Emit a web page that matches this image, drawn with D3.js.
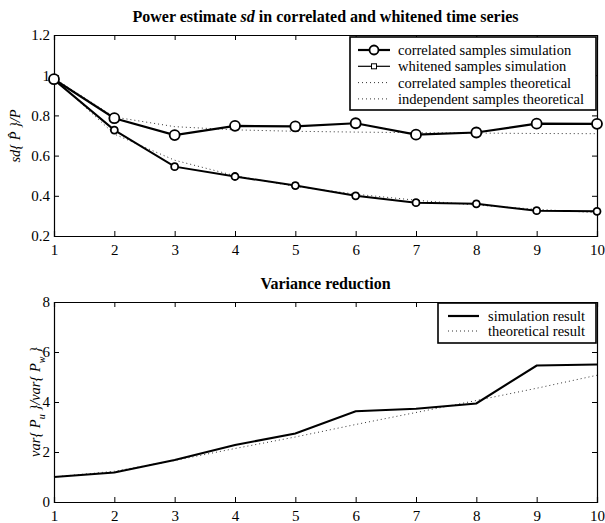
<!DOCTYPE html>
<html>
<head>
<meta charset="utf-8">
<script src="https://cdn.jsdelivr.net/npm/d3@7"></script>
<style>
  body { margin: 0; background: #fff; }
  svg { display: block; }
  text { font-family: "Liberation Serif", "Times New Roman", serif; fill: #000; }
</style>
</head>
<body>
<div id="chart"></div>
<script>
var steps = [1, 2, 3, 4, 5, 6, 7, 8, 9, 10];

// top panel
var corrSim   = [0.980, 0.786, 0.702, 0.748, 0.745, 0.761, 0.704, 0.715, 0.759, 0.758];
var whiteSim  = [0.978, 0.727, 0.545, 0.496, 0.451, 0.400, 0.366, 0.360, 0.326, 0.323];
var corrTheo  = [0.985, 0.792, 0.744, 0.728, 0.721, 0.717, 0.714, 0.712, 0.710, 0.709];
var indepTheo = [0.985, 0.707, 0.577, 0.500, 0.447, 0.408, 0.378, 0.354, 0.333, 0.316];
var topTicks  = [0.2, 0.4, 0.6, 0.8, 1, 1.2];

// bottom panel
var varSim  = [1.00, 1.18, 1.68, 2.28, 2.74, 3.63, 3.73, 3.94, 5.46, 5.50];
var varTheo = [1.00, 1.23, 1.66, 2.14, 2.60, 3.10, 3.58, 4.06, 4.55, 5.07];
var botTicks = [0, 2, 4, 6, 8];

var W = 605, H = 523;
var svg = d3.select("#chart").append("svg").attr("width", W).attr("height", H);

var left = 54, right = 597, tick = 5, fs = 14.5;

var x = d3.scaleLinear().domain([1, 10]).range([left, right]);

function panel(top, bottom, yDomain, yTicks, title) {
  var y = d3.scaleLinear().domain(yDomain).range([bottom, top]);
  var g = svg.append("g");

  // inside ticks on all four sides
  g.append("g").attr("transform", `translate(0,${bottom})`)
    .call(d3.axisBottom(x).tickValues(steps).tickSize(-tick).tickPadding(8).tickFormat(d3.format("d")));
  g.append("g").attr("transform", `translate(0,${top})`)
    .call(d3.axisTop(x).tickValues(steps).tickSize(-tick).tickFormat(""));
  g.append("g").attr("transform", `translate(${left},0)`)
    .call(d3.axisLeft(y).tickValues(yTicks).tickSize(-tick).tickPadding(4).tickFormat(d => String(d)));
  g.append("g").attr("transform", `translate(${right},0)`)
    .call(d3.axisRight(y).tickValues(yTicks).tickSize(-tick).tickFormat(""));

  g.selectAll("g").attr("font-family", null).attr("font-size", null);
  g.selectAll(".domain").attr("stroke", "#000").attr("stroke-width", 1.2);
  g.selectAll(".tick line").attr("stroke", "#000");
  g.selectAll(".tick text").attr("font-size", 15);

  svg.append("text")
    .attr("x", (left + right) / 2)
    .attr("y", top - 13)
    .attr("text-anchor", "middle")
    .attr("font-size", 16)
    .attr("font-weight", "bold")
    .html(title);

  return y;
}

function line(y, values, opts) {
  var gen = d3.line().x((d, i) => x(steps[i])).y(d => y(d));
  svg.append("path")
    .datum(values)
    .attr("d", gen)
    .attr("fill", "none")
    .attr("stroke", opts.color || "#000")
    .attr("stroke-width", opts.width)
    .attr("stroke-dasharray", opts.dash || null);
}

function circles(y, values, r) {
  svg.append("g").selectAll("circle")
    .data(values).enter().append("circle")
    .attr("cx", (d, i) => x(steps[i]))
    .attr("cy", d => y(d))
    .attr("r", r)
    .attr("fill", "#fff")
    .attr("stroke", "#000")
    .attr("stroke-width", 1.8);
}

function squares(y, values, s) {
  svg.append("g").selectAll("rect")
    .data(values).enter().append("rect")
    .attr("x", (d, i) => x(steps[i]) - s / 2)
    .attr("y", d => y(d) - s / 2)
    .attr("width", s).attr("height", s)
    .attr("fill", "none")
    .attr("stroke", "#000")
    .attr("stroke-width", 1.2);
}

// ---------- top panel ----------
var y1 = panel(35, 236, [0.2, 1.2], topTicks,
  'Power estimate <tspan font-style="italic">sd</tspan> in correlated and whitened time series');

line(y1, corrTheo, {width: 1, dash: "1,3", color: "#333"});
line(y1, indepTheo, {width: 1, dash: "1,3", color: "#333"});
line(y1, whiteSim, {width: 2});
line(y1, corrSim, {width: 2.2});
squares(y1, whiteSim, 5);
circles(y1, whiteSim, 3.5);
circles(y1, corrSim, 5);

svg.append("text")
  .attr("transform", "translate(20,136) rotate(-90)")
  .attr("text-anchor", "middle")
  .attr("font-size", fs)
  .attr("font-style", "italic")
  .text("sd{ P\u0302 }/P");

// legend top
var leg1 = svg.append("g");
leg1.append("rect").attr("x", 350).attr("y", 37).attr("width", 246).attr("height", 73)
  .attr("fill", "#fff").attr("stroke", "#000").attr("stroke-width", 1.6);
var legItems1 = ["correlated samples simulation", "whitened samples simulation",
                 "correlated samples theoretical", "independent samples theoretical"];
legItems1.forEach(function(t, i) {
  var yy = 50 + i * 16.3;
  if (i < 2) {
    leg1.append("line").attr("x1", 358).attr("x2", 390).attr("y1", yy).attr("y2", yy)
      .attr("stroke", "#000").attr("stroke-width", i == 0 ? 2.2 : 1.2);
    if (i == 0) {
      leg1.append("circle").attr("cx", 374).attr("cy", yy).attr("r", 4.5)
        .attr("fill", "#fff").attr("stroke", "#000").attr("stroke-width", 1.8);
    } else {
      leg1.append("rect").attr("x", 371.5).attr("y", yy - 2.5).attr("width", 5).attr("height", 5)
        .attr("fill", "#fff").attr("stroke", "#000").attr("stroke-width", 1);
    }
  } else {
    leg1.append("line").attr("x1", 358).attr("x2", 390).attr("y1", yy).attr("y2", yy)
      .attr("stroke", "#333").attr("stroke-width", 1).attr("stroke-dasharray", "1,3");
  }
  leg1.append("text").attr("x", 398).attr("y", yy + 5).attr("font-size", fs).text(t);
});

// ---------- bottom panel ----------
var y2 = panel(302, 502, [0, 8], botTicks, "Variance reduction");

line(y2, varTheo, {width: 1, dash: "1,3", color: "#333"});
line(y2, varSim, {width: 2.2});

var yl2 = svg.append("text")
  .attr("transform", "translate(40,402) rotate(-90)")
  .attr("text-anchor", "middle")
  .attr("font-size", fs)
  .attr("font-style", "italic");
yl2.append("tspan").text("var{ P");
yl2.append("tspan").attr("dy", 5).attr("font-size", 10).text("u");
yl2.append("tspan").attr("dy", -5).text(" }/var{ P");
yl2.append("tspan").attr("dy", 5).attr("font-size", 10).text("w");
yl2.append("tspan").attr("dy", -5).text(" }");

// legend bottom
var leg2 = svg.append("g");
leg2.append("rect").attr("x", 438).attr("y", 303).attr("width", 158).attr("height", 40)
  .attr("fill", "#fff").attr("stroke", "#000").attr("stroke-width", 1.6);
var legItems2 = ["simulation result", "theoretical result"];
legItems2.forEach(function(t, i) {
  var yy = 316 + i * 15;
  leg2.append("line").attr("x1", 448).attr("x2", 479).attr("y1", yy).attr("y2", yy)
    .attr("stroke", i == 0 ? "#000" : "#333").attr("stroke-width", i == 0 ? 2.2 : 1)
    .attr("stroke-dasharray", i == 0 ? null : "1,3");
  leg2.append("text").attr("x", 488).attr("y", yy + 5).attr("font-size", fs).text(t);
});
</script>
</body>
</html>
